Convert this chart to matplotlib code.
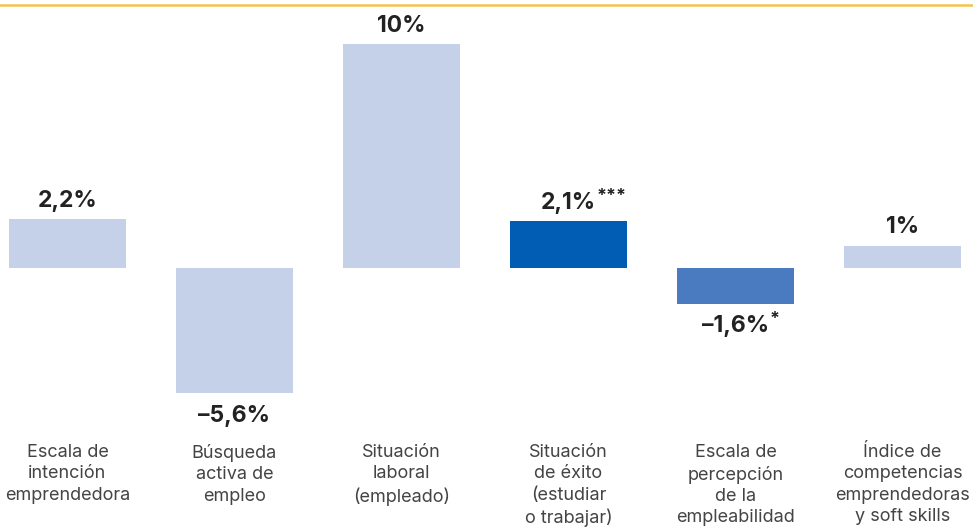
import matplotlib
matplotlib.use("Agg")
import matplotlib.pyplot as plt
from matplotlib.lines import Line2D

categories = [
    "Escala de\nintención\nemprendedora",
    "Búsqueda\nactiva de\nempleo",
    "Situación\nlaboral\n(empleado)",
    "Situación\nde éxito\n(estudiar\no trabajar)",
    "Escala de\npercepción\nde la\nempleabilidad",
    "Índice de\ncompetencias\nemprendedoras\ny soft skills",
]
values = [2.2, -5.6, 10, 2.1, -1.6, 1]
value_labels = ["2,2%", "-5,6%", "10%", "2,1%", "-1,6%", "1%"]
stars = ["", "", "", "***", "*", ""]
colors = ["#c5d0e9", "#c5d0e9", "#c5d0e9", "#005db3", "#4a7bc0", "#c5d0e9"]

plt.rcParams['font.family'] = ['Inter', 'DejaVu Sans']

fig = plt.figure(figsize=(9.73, 5.3), dpi=100)
ax = fig.add_axes([0, 0, 1, 1])
x = list(range(len(values)))
ax.bar(x, values, width=0.7, color=colors)
ax.set_xlim(-0.404, 5.422)
ax.set_ylim(-11.70, 11.96)
ax.axis("off")

# orange rule at the top
fig.add_artist(Line2D([0, 1], [1 - 5 / 530, 1 - 5 / 530], color="#f5c24f", lw=1.8,
                      transform=fig.transFigure))

fig.canvas.draw()
renderer = fig.canvas.get_renderer()
for i, v in enumerate(values):
    off = 13 if v >= 0 else -16
    lab = value_labels[i].replace("-", "\u2013")
    t = ax.annotate(lab, (i, v), xytext=(0, off), textcoords="offset points",
                    ha="center", va="center", fontsize=16.5, fontweight="bold", color="#222222")
    if stars[i]:
        bb = t.get_window_extent(renderer)
        ax.annotate(stars[i], (bb.x1 + 1, bb.y1 + 4), xycoords="figure pixels",
                    ha="left", va="top", fontsize=13, fontweight="bold", color="#222222")

for i, c in enumerate(categories):
    ax.text(i, -7.85, c, ha="center", va="top", fontsize=13, color="#444444",
            linespacing=1.34)

fig.savefig("out.png", dpi=100)
